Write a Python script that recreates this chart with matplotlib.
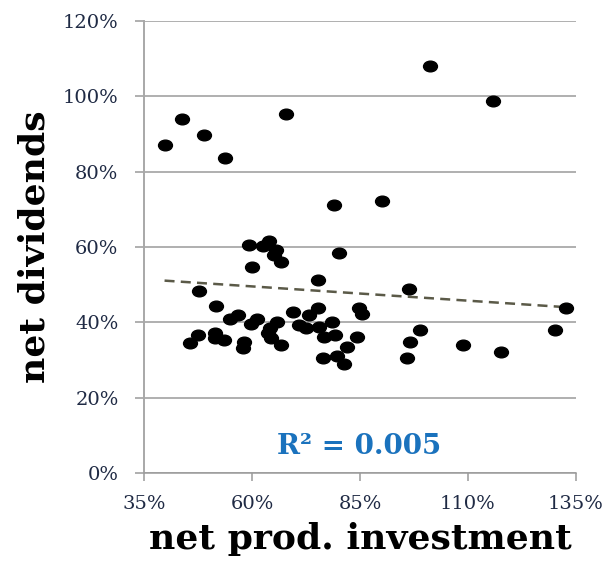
import numpy as np
import matplotlib
matplotlib.use("Agg")
import matplotlib.pyplot as plt
from matplotlib.path import Path
from matplotlib.transforms import Affine2D

# net productive investment (%) vs net dividends (%)
invest = [43.7, 39.7, 48.8, 53.8, 67.8, 78.9, 101.2, 115.8, 90.0,
          59.3, 62.5, 63.8, 65.6, 65.1, 66.8, 59.9, 80.1, 75.3, 47.7,
          51.6, 56.7, 54.9, 61.2, 59.7, 65.7, 64.2, 63.7, 64.3, 66.8,
          69.4, 73.2, 75.3, 70.8, 72.4, 75.5, 78.4, 76.7, 79.2, 84.2,
          81.9, 76.4, 79.7, 81.3, 84.7, 85.5, 47.5, 45.5, 51.4, 51.4,
          53.4, 58.2, 57.9, 96.4, 98.8, 96.6, 95.9, 108.8, 117.6, 130.3,
          132.7]
divs = [93.9, 87.0, 89.8, 83.7, 95.4, 71.1, 108.0, 98.7, 72.1,
        60.4, 60.2, 61.7, 59.1, 57.9, 56.1, 54.8, 58.4, 51.2, 48.4,
        44.3, 42.0, 41.0, 40.8, 39.5, 40.0, 38.4, 37.2, 35.8, 34.1,
        42.7, 42.0, 43.9, 39.4, 38.6, 38.8, 40.0, 36.2, 36.6, 36.2,
        33.4, 30.5, 31.1, 28.9, 43.9, 42.2, 36.6, 34.6, 37.1, 35.8,
        35.4, 34.7, 33.2, 48.8, 38.0, 34.8, 30.5, 34.1, 32.0, 38.0,
        43.8]
r2_label = "R² = 0.005"
xticks = [35, 60, 85, 110, 135]
yticks = [0, 20, 40, 60, 80, 100, 120]

fig = plt.figure(figsize=(6.15, 5.63), dpi=100)
ax = fig.add_axes([0.2346, 0.1599, 0.7015, 0.8028])

# slightly flattened dot, like the original
ell = Path.unit_circle().transformed(Affine2D().scale(1.3, 1.0))
ax.plot(invest, divs, linestyle="none", marker=ell, markersize=10,
        color="black", zorder=3)

# linear trend over the data range
x = np.array(invest)
y = np.array(divs)
k, b = np.polyfit(x, y, 1)
xs = np.array([x.min(), x.max()])
ax.plot(xs, k * xs + b, linestyle=(0, (4, 2.5)), color="#5b5a48",
        linewidth=1.8, zorder=2)

ax.set_xlim(35, 135)
ax.set_ylim(0, 120)
ax.set_xticks(xticks)
ax.set_yticks(yticks)
ax.set_xticklabels([f"{t}%" for t in xticks])
ax.set_yticklabels([f"{t}%" for t in yticks])

ax.yaxis.grid(True, color="#9a9a9a", linewidth=1.1)
ax.set_axisbelow(True)
for s in ["top", "right"]:
    ax.spines[s].set_visible(False)
ax.spines["left"].set_color("#a8a8a8")
ax.spines["left"].set_linewidth(1.4)
ax.spines["bottom"].set_color("#9a9a9a")
ax.spines["bottom"].set_linewidth(1.1)

ax.tick_params(axis="y", direction="out", length=6.5, width=1.1,
               color="#9a9a9a", pad=12, labelcolor="#1f2a44")
ax.tick_params(axis="x", direction="out", length=6, width=1.1,
               color="#9a9a9a", pad=10, labelcolor="#1f2a44")
for lab in ax.get_xticklabels() + ax.get_yticklabels():
    lab.set_fontfamily("DejaVu Serif")
    lab.set_fontsize(14)

ax.set_xlabel("net prod. investment", fontfamily="DejaVu Serif",
              fontweight="bold", fontsize=26, labelpad=6)
ax.set_ylabel("net dividends", fontfamily="DejaVu Serif",
              fontweight="bold", fontsize=26, labelpad=8)

ax.text(0.498, 0.058, r2_label, transform=ax.transAxes, ha="center",
        va="center", fontfamily="DejaVu Serif", fontweight="bold",
        fontsize=20, color="#1a72bd")

fig.savefig("out.png", dpi=100)
